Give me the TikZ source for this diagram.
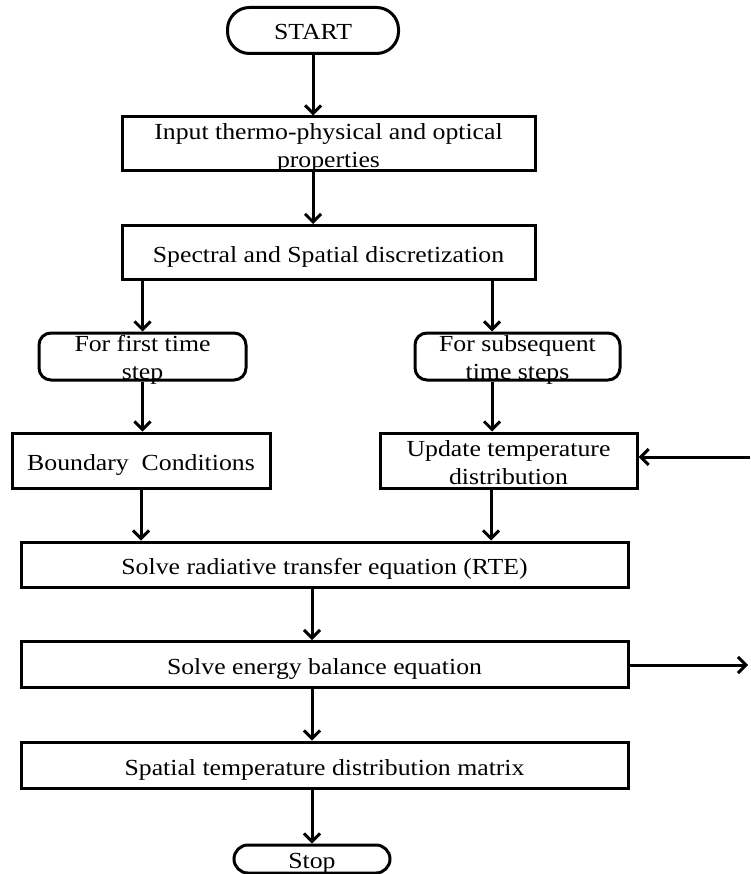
\documentclass[tikz,border=0pt]{standalone}
\usepackage{fontspec}
\setmainfont{Liberation Serif}[FakeStretch=1.12]
\usetikzlibrary{arrows.meta,positioning}
\begin{document}
\begin{tikzpicture}[x=1pt,y=-1pt,
  txt/.style={font=\fontsize{23}{27.5}\selectfont, inner sep=0pt, align=center},
  boxnode/.style={draw, line width=3pt, rectangle, inner sep=0pt},
  termnode/.style={draw, line width=3pt, rectangle, inner sep=0pt, rounded corners=#1},
  flow/.style={line width=3pt, -{Straight Barb[length=8pt,width=16pt,line width=3pt]}}
]
\useasboundingbox (0,0) rectangle (750,874);

% shapes
\node[termnode=22pt, minimum width=171pt, minimum height=46pt] (start) at (313,30.5) {};
\node[boxnode, minimum width=413pt, minimum height=54pt] (input) at (328.5,144) {};
\node[boxnode, minimum width=413pt, minimum height=54pt] (spectral) at (328.5,252.5) {};
\node[termnode=12pt, minimum width=207pt, minimum height=47pt] (first) at (142.5,356.5) {};
\node[termnode=12pt, minimum width=205pt, minimum height=47pt] (subseq) at (517.5,356.5) {};
\node[boxnode, minimum width=258pt, minimum height=55pt] (boundary) at (141,460.5) {};
\node[boxnode, minimum width=257pt, minimum height=55pt] (update) at (508.5,460.5) {};
\node[boxnode, minimum width=607pt, minimum height=45pt] (rte) at (324.5,564.5) {};
\node[boxnode, minimum width=607pt, minimum height=46pt] (energy) at (324.5,664.5) {};
\node[boxnode, minimum width=607pt, minimum height=46pt] (spatial) at (324.5,765) {};
\node[termnode=14pt, minimum width=156pt, minimum height=28pt] (stop) at (312,859) {};

% texts
\node[txt] (start-t) at ([yshift=-1.5pt]start.center) {START};
\node[txt] (input-t) at ([yshift=-4pt]input.center) {Input thermo-physical and optical\\properties};
\node[txt] (spectral-t) at ([yshift=-4.5pt]spectral.center) {Spectral and Spatial discretization};
\node[txt] (first-t) at ([yshift=-3.5pt]first.center) {For first time\\step};
\node[txt] (subseq-t) at ([yshift=-3.5pt]subseq.center) {For subsequent\\time steps};
\node[txt] (boundary-t) at ([yshift=-4pt]boundary.center) {Boundary\ \ Conditions};
\node[txt] (update-t) at ([yshift=-2pt]update.center) {Update temperature\\distribution};
\node[txt] (rte-t) at ([yshift=-4.5pt]rte.center) {Solve radiative transfer equation (RTE)};
\node[txt] (energy-t) at ([yshift=-4.5pt]energy.center) {Solve energy balance equation};
\node[txt] (spatial-t) at ([yshift=-4.5pt]spatial.center) {Spatial temperature distribution matrix};
\node[txt] (stop-t) at ([yshift=-4pt]stop.center) {Stop};

\coordinate (outE) at (748,665);
\coordinate (inU) at (750,457);

% connectors
\draw[flow] (start.south) -- (start.south |- input.north);
\draw[flow] ([xshift=-15.5pt]input.south) -- ([xshift=-15.5pt]spectral.north);
\draw[flow] (first.north |- spectral.south) -- (first.north);
\draw[flow] ([xshift=-25.5pt]subseq.north |- spectral.south) -- ([xshift=-25.5pt]subseq.north);
\draw[flow] (first.south) -- (first.south |- boundary.north);
\draw[flow] ([xshift=-25.5pt]subseq.south) -- ([xshift=-25.5pt]subseq.south |- update.north);
\draw[flow] (boundary.south) -- (boundary.south |- rte.north);
\draw[flow] ([xshift=-17.5pt]update.south) -- ([xshift=-17.5pt]update.south |- rte.north);
\draw[flow] ([xshift=-12.5pt]rte.south) -- ([xshift=-12.5pt]energy.north);
\draw[flow] (energy.east |- outE) -- (outE);
\draw[flow] (inU) -- (update.east |- inU);
\draw[flow] ([xshift=-12.5pt]energy.south) -- ([xshift=-12.5pt]spatial.north);
\draw[flow] ([xshift=-12.5pt]spatial.south) -- ([xshift=-12.5pt]spatial.south |- stop.north);
\end{tikzpicture}
\end{document}
